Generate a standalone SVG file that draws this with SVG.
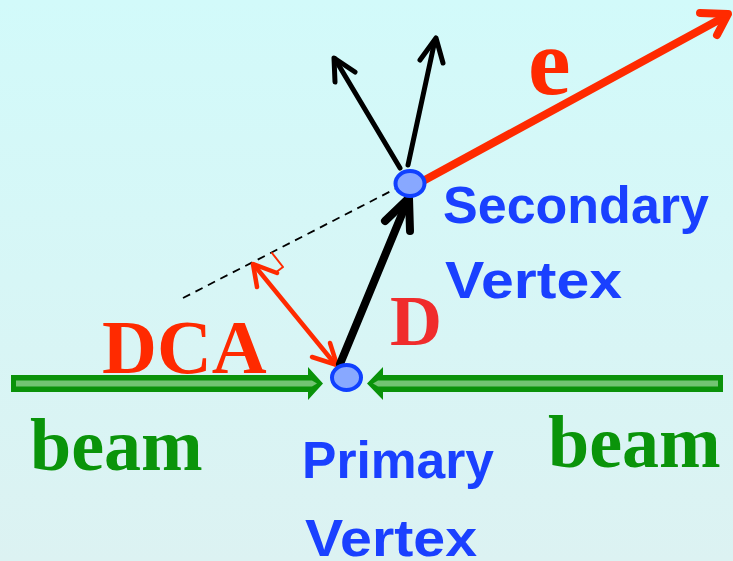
<svg xmlns="http://www.w3.org/2000/svg" width="733" height="561" viewBox="0 0 733 561">
<defs>
<linearGradient id="bg" x1="0" y1="0" x2="0" y2="1">
<stop offset="0" stop-color="#d2fafa"/>
<stop offset="1" stop-color="#dcf2f2"/>
</linearGradient>
</defs>
<style>
.blk{stroke:#000;fill:none;stroke-linecap:round;stroke-linejoin:round}
.red{stroke:#ff2a00;fill:none;stroke-linecap:round;stroke-linejoin:round}
.beam{fill:#0a920a}
.stripe{fill:#72c472}
.vtx{fill:#88a8ff;stroke:#1040ff;stroke-width:4}
.serif{font-family:"Liberation Serif","Times New Roman",serif;font-weight:bold}
.lbl{font-family:"Liberation Sans",Arial,sans-serif;font-weight:bold;fill:#1a40ff;font-size:52px}
</style>
<rect width="733" height="561" fill="url(#bg)"/>
<g id="connectors">
<line x1="183" y1="298" x2="395" y2="189" stroke="#000" stroke-width="1.8" stroke-dasharray="8 6"/>
<polyline class="red" stroke-width="2" points="272,253 283,267 275,273"/>
<g id="beam-left">
<polygon class="beam" points="11,375 308,375 308,367 323,383.5 308,400 308,392 11,392"/>
<polygon class="stripe" points="16,380.5 312,380.5 317,383.5 312,386.5 16,386.5"/>
</g>
<g id="beam-right">
<polygon class="beam" points="723,375 383,375 383,367 367,383.5 383,400 383,392 723,392"/>
<polygon class="stripe" points="718,380.5 378,380.5 373,383.5 378,386.5 718,386.5"/>
</g>
<g id="dca-arrow">
<line class="red" stroke-width="4.5" x1="254" y1="265" x2="335" y2="364"/>
<polyline class="red" stroke-width="4.5" points="257,287 253,264 277,273"/>
<polyline class="red" stroke-width="4.5" points="312,357 337,365 330,343"/>
</g>
<g id="d-arrow">
<line class="blk" stroke-width="8" x1="340" y1="364" x2="407" y2="202"/>
<polyline class="blk" stroke-width="8" points="385,221 409,198 410,231"/>
</g>
<g id="track-1">
<line class="blk" stroke-width="5" x1="400" y1="168" x2="335" y2="59"/>
<polyline class="blk" stroke-width="5" points="335,82 334,58 355,72"/>
</g>
<g id="track-2">
<line class="blk" stroke-width="5" x1="408" y1="165" x2="435" y2="40"/>
<polyline class="blk" stroke-width="5" points="420,60 436,38 443,63"/>
</g>
<g id="electron">
<line class="red" stroke-width="8" x1="423" y1="181" x2="726" y2="16"/>
<polyline class="red" stroke-width="8" points="700,13 728,14 717,35"/>
</g>
</g>
<g id="primary-vertex">
<ellipse class="vtx" cx="346.5" cy="377.5" rx="14.5" ry="12.5"/>
<text class="lbl" x="302" y="478" textLength="192" lengthAdjust="spacingAndGlyphs">Primary</text>
<text class="lbl" x="305" y="556" textLength="172" lengthAdjust="spacingAndGlyphs">Vertex</text>
</g>
<g id="secondary-vertex">
<ellipse class="vtx" cx="410" cy="183.5" rx="14.5" ry="12.5"/>
<text class="lbl" x="443" y="223" textLength="266" lengthAdjust="spacingAndGlyphs">Secondary</text>
<text class="lbl" x="445" y="298" textLength="177" lengthAdjust="spacingAndGlyphs">Vertex</text>
</g>
<g id="labels">
<text class="serif" x="528" y="94" font-size="96" fill="#ff2a00">e</text>
<text class="serif" x="102" y="373" font-size="76" fill="#ff2a00">DCA</text>
<text class="serif" x="390" y="345" font-size="72" fill="#f02c2c">D</text>
<text class="serif" x="30" y="470" font-size="74" fill="#0a940a">beam</text>
<text class="serif" x="548" y="467" font-size="74" fill="#0a940a">beam</text>
</g>
</svg>
